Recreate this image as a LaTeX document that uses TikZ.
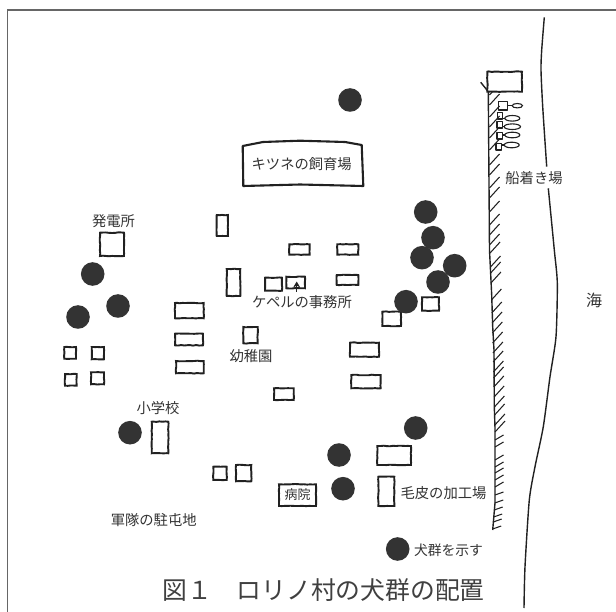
\documentclass[tikz,border=0pt]{standalone}
\usepackage{fontspec}
\setmainfont{Noto Sans CJK JP}[Scale=1]
\usetikzlibrary{decorations.pathmorphing,arrows.meta}
\definecolor{ink}{gray}{0.13}
\definecolor{txt}{gray}{0.2}
\definecolor{dotc}{gray}{0.2}
\tikzset{
  x=1pt,y=-1pt,
  hut/.style={draw=ink,line width=1.9pt,fill=white,decorate,decoration={random steps,segment length=3pt,amplitude=0.3pt}},
  dog/.style={fill=dotc,draw=none},
  rough/.style={draw=ink,line width=1.4pt,line join=round},
  hatch/.style={draw=ink,line width=1.05pt},
  frameline/.style={draw=black!60,line width=1.2pt},
  lab/.style={text=txt,inner sep=0pt,font=\fontsize{14.3}{15}\selectfont},
}
\pgfmathsetseed{7}
\begin{document}
\begin{tikzpicture}
\useasboundingbox (0,0) rectangle (616,612);
\fill[white] (0,0) rectangle (616,612);
% frame
\draw[frameline] (7.5,612) -- (7.5,10) -- (616,10);
% sea line
\draw[rough] plot[smooth,tension=0.4] coordinates {(544.3,17.3) (541.7,50) (541,70) (542.7,106.7) (546.7,166.7)};
\draw[rough] plot[smooth,tension=0.4] coordinates {(548.3,188.3) (554.3,250) (557.3,283) (556,336.7) (550,376.7) (543.3,426.7) (535,466.7) (529.3,500) (525,566.7) (524,608)};
% coast
\draw[rough] (480.7,82.3) -- (488.3,91.7) -- (489.5,250) -- (491.7,295) -- (492.7,326.7) -- (494,350) -- (494.3,406.7) -- (495,428) -- (495,503) -- (492.7,530);
% hatching
\foreach \yy in {95,105,117,127,138,150,165,175,188,198,212,225,235,245,253,267,273,283,300,313,323,333,343,353,362,372,378,387,397,407,415,425,432,440,447,460,467,473,480,487,495,503,510,517,522,529}{
  \pgfmathsetmacro{\xx}{\yy<250 ? 489.5 : (\yy<430 ? 490+(\yy-250)*0.028 : (\yy<500 ? 495 : 495-(\yy-500)*0.08))}
  \pgfmathsetmacro{\dxx}{\yy<440 ? 10 : 8.5}
  \pgfmathsetmacro{\dyy}{\yy<440 ? -11 : (\yy<495 ? -5 : -3)}
  \draw[hatch] (\xx,\yy) -- ++(\dxx,\dyy);
}
% port box and boats
\draw[hut] (487.3,71.7) rectangle (522,91.7);
\foreach \xa/\ya/\xb/\yb in {498.3/101.7/507.7/110, 497.5/112.5/502.7/119, 497/121.5/502.7/128, 497/132.5/502.7/139, 496/143.5/501.7/150}{
  \draw[rough] (\xa,\ya) rectangle (\xb,\yb);
}
\foreach \ex/\ey/\rx/\ry/\sx in {517.3/105.7/5.2/2.2/507.7, 512.3/118.3/7.5/2.8/502.7, 512.3/126.7/8.2/2.8/502.7, 512.3/135/7.5/2.8/502.7, 511.7/145/7.5/2.8/501.7}{
  \draw[ink,line width=1.1pt] (\sx,\ey) -- (\ex-\rx,\ey);
  \draw[ink,line width=1.1pt] (\ex,\ey) ellipse [x radius=\rx,y radius=\ry];
}
% fox farm
\draw[draw=ink,line width=2.1pt,line join=round] (242.7,146) -- (263,142) -- (300,140.7) -- (345,142) -- (361.7,145) -- (363.3,186) -- (300,184.5) -- (243.3,186) -- cycle;
% buildings
\foreach \xa/\ya/\xb/\yb in {
  100/232.7/124/256,
  64.3/347/76/358.7, 91.7/347/104/359.3, 65/374/76.7/385.7, 91/372.3/104/384.3,
  175/303/203.7/318.3, 175/333.7/203/345.3, 176/361/203.7/373.3,
  216.7/215/228/236, 289.3/244.3/309.7/254.7, 337.3/244.3/358.3/254.7,
  226.7/269/240.3/296, 265/277.7/282/290.7, 286.3/276.7/305/288.3, 336.7/275/358.3/285,
  243.3/327/257.7/343.3, 350/342.7/379/356.7, 351.3/375/380.7/388.3, 274/388.3/293.7/400,
  382.3/311.7/401/326, 422/297.3/439/310.7,
  151.7/421.7/168.3/453.3, 213.3/466.7/226.7/480, 236/465/251.3/481.3,
  279/484.3/316/506,
  377.3/446/411/465, 378.3/476.7/394.3/506}{
  \draw[hut] (\xa,\ya) rectangle (\xb,\yb);
}
% office arrow
\draw[ink,line width=1.1pt,-{Stealth[length=6pt,width=7pt]}] (296.7,291.7) -- (296.7,281.5);
% dog groups
\foreach \dx/\dy in {350/100, 425.7/212, 433/237.7, 422/257.7, 454.7/265.7, 438/282, 406/301.7,
  92.7/274, 118/306, 78/317, 130/432.7, 415.7/428, 339/455, 343/488.7, 397.7/549}{
  \fill[dog] (\dx,\dy) circle (11.8);
}
% labels
\node[lab] (power) at (113.5,220.7) {発電所};
\node[lab] (fox) at (301.7,164) {キツネの飼育場};
\node[lab] (office) at (302,301.7) {ケペルの事務所};
\node[lab] (kinder) at (251,356) {幼稚園};
\node[lab] (school) at (158,408) {小学校};
\node[lab] (army) at (153.7,520) {軍隊の駐屯地};
\node[lab,font=\fontsize{13}{14}\selectfont] (hosp) at (297.5,495) {病院};
\node[lab] (fur) at (443.5,492.7) {毛皮の加工場};
\node[lab,font=\fontsize{13.8}{15}\selectfont] (legend) at (448.5,550) {犬群を示す};
\node[lab] (pier) at (534,177.7) {船着き場};
\node[lab,font=\fontsize{16}{17}\selectfont] (sea) at (594,300) {海};
\node[lab,font=\fontsize{24.8}{26}\selectfont,text=black!75] (title) at (323.5,590) {図１　ロリノ村の犬群の配置};
\end{tikzpicture}
\end{document}
